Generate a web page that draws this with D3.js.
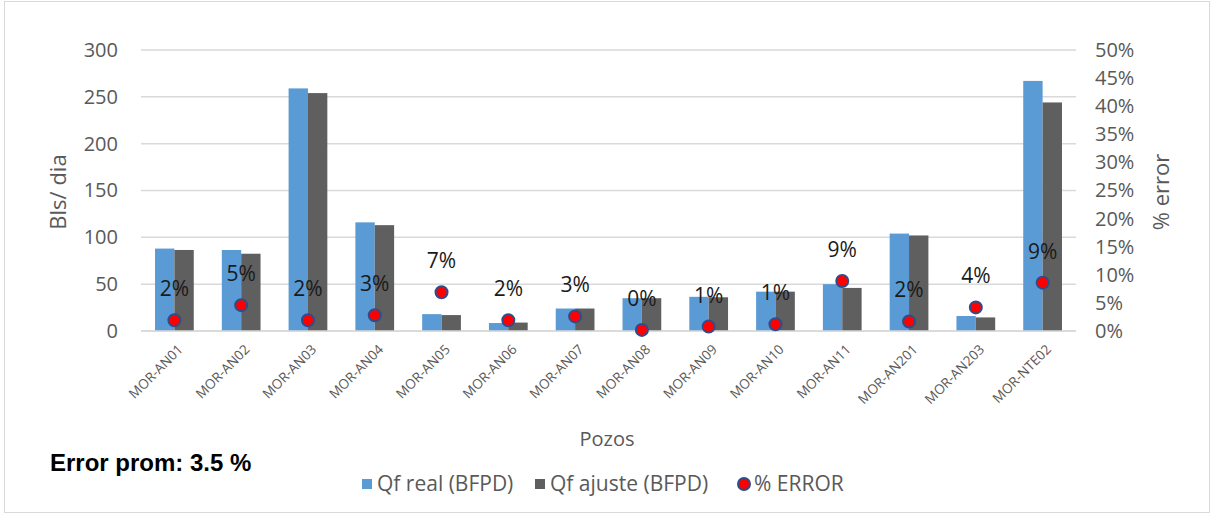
<!DOCTYPE html>
<html>
<head>
<meta charset="utf-8">
<script src="https://cdn.jsdelivr.net/npm/d3@7"></script>
<style>
  html, body { margin: 0; padding: 0; background: #fff; }
  svg { display: block; }
</style>
</head>
<body>
<svg id="chart" width="1218" height="519"></svg>
<script>
// Well names (x categories)
const pozos = ["MOR-AN01", "MOR-AN02", "MOR-AN03", "MOR-AN04", "MOR-AN05", "MOR-AN06", "MOR-AN07",
               "MOR-AN08", "MOR-AN09", "MOR-AN10", "MOR-AN11", "MOR-AN201", "MOR-AN203", "MOR-NTE02"];
// Measured fluid rate, barrels per day
const qfReal = [88, 86.5, 259, 116, 18, 8.5, 24, 35, 36.5, 42, 50, 104, 16, 267];
// Fitted fluid rate, barrels per day
const qfAjuste = [86.5, 82.5, 254, 113, 17, 9, 24, 35, 36, 42, 46, 102, 14.5, 244];
// Relative error (%)
const errorPct = [1.9, 4.6, 1.9, 2.8, 6.9, 1.9, 2.6, 0.2, 0.8, 1.2, 8.9, 1.7, 4.2, 8.6];
// Axis ticks
const leftTicks = [0, 50, 100, 150, 200, 250, 300];
const rightTicks = [0, 5, 10, 15, 20, 25, 30, 35, 40, 45, 50];
const seriesNames = ["Qf real (BFPD)", "Qf ajuste (BFPD)", "% ERROR"];

const colors = { real: "#5B9BD5", ajuste: "#5F5F5F", dot: "#FF0000", dotStroke: "#2F4C8C",
                 grid: "#D9D9D9", text: "#595959" };
const font = "'Open Sans', 'Noto Sans', sans-serif";

const svg = d3.select("#chart");
const plot = { left: 141, right: 1076, top: 50, bottom: 331 };

// Chart frame
svg.append("rect")
  .attr("x", 4.5).attr("y", 1.5).attr("width", 1205).attr("height", 511)
  .attr("fill", "#fff").attr("stroke", "#D9D9D9").attr("stroke-width", 1);

const x0 = d3.scaleBand().domain(pozos).range([plot.left, plot.right])
  .paddingInner(0.42).paddingOuter(0.21);
const x1 = d3.scaleBand().domain(["real", "ajuste"]).range([0, x0.bandwidth()]);
const yL = d3.scaleLinear().domain([0, 300]).range([plot.bottom, plot.top]);
const yR = d3.scaleLinear().domain([0, 50]).range([plot.bottom, plot.top]);

// Gridlines
svg.append("g").selectAll("line").data(leftTicks).join("line")
  .attr("x1", plot.left).attr("x2", plot.right)
  .attr("y1", d => yL(d)).attr("y2", d => yL(d))
  .attr("stroke", colors.grid).attr("stroke-width", 1.5);

// Left axis
const axL = svg.append("g").attr("transform", `translate(${plot.left},0)`)
  .call(d3.axisLeft(yL).tickValues(leftTicks).tickSize(0).tickPadding(23));
axL.select(".domain").remove();
axL.selectAll("text").attr("font-family", font).attr("font-size", 20).attr("fill", colors.text);

// Right axis
const axR = svg.append("g").attr("transform", `translate(${plot.right},0)`)
  .call(d3.axisRight(yR).tickValues(rightTicks).tickSize(0).tickPadding(19).tickFormat(d => d + "%"));
axR.select(".domain").remove();
axR.selectAll("text").attr("font-family", font).attr("font-size", 20).attr("fill", colors.text);

// Bars
const groups = svg.append("g").selectAll("g").data(pozos).join("g")
  .attr("transform", d => `translate(${x0(d)},0)`);
groups.append("rect")
  .attr("x", x1("real")).attr("width", x1.bandwidth())
  .attr("y", (d, i) => yL(qfReal[i])).attr("height", (d, i) => yL(0) - yL(qfReal[i]))
  .attr("fill", colors.real);
groups.append("rect")
  .attr("x", x1("ajuste")).attr("width", x1.bandwidth())
  .attr("y", (d, i) => yL(qfAjuste[i])).attr("height", (d, i) => yL(0) - yL(qfAjuste[i]))
  .attr("fill", colors.ajuste);

// Baseline
svg.append("line").attr("x1", plot.left).attr("x2", plot.right)
  .attr("y1", plot.bottom).attr("y2", plot.bottom)
  .attr("stroke", colors.grid).attr("stroke-width", 1.5);

// Error markers and their labels
const cx = d => x0(d) + x0.bandwidth() / 2;
svg.append("g").selectAll("circle").data(pozos).join("circle")
  .attr("cx", cx).attr("cy", (d, i) => yR(errorPct[i]))
  .attr("r", 6).attr("fill", colors.dot)
  .attr("stroke", colors.dotStroke).attr("stroke-width", 2);
svg.append("g").selectAll("text").data(pozos).join("text")
  .attr("x", cx).attr("y", (d, i) => yR(errorPct[i]) - 24)
  .attr("text-anchor", "middle")
  .attr("font-family", font).attr("font-size", 21).attr("fill", "#1a1a1a")
  .text((d, i) => Math.round(errorPct[i]) + "%");

// Category labels
svg.append("g").selectAll("text").data(pozos).join("text")
  .attr("transform", d => `translate(${cx(d) + 6},${plot.bottom + 16}) rotate(-45)`)
  .attr("text-anchor", "end").attr("dy", "0.35em")
  .attr("font-family", font).attr("font-size", 13.5).attr("fill", colors.text)
  .text(d => d);

// Axis titles
svg.append("text").attr("transform", "translate(66,192) rotate(-90)")
  .attr("text-anchor", "middle")
  .attr("font-family", font).attr("font-size", 22).attr("fill", colors.text)
  .text("Bls/ dia");
svg.append("text").attr("transform", "translate(1169,192) rotate(-90)")
  .attr("text-anchor", "middle")
  .attr("font-family", font).attr("font-size", 22).attr("fill", colors.text)
  .text("% error");
svg.append("text").attr("x", 607).attr("y", 446)
  .attr("text-anchor", "middle")
  .attr("font-family", font).attr("font-size", 20).attr("fill", colors.text)
  .text("Pozos");

// Average error note
svg.append("text").attr("x", 50).attr("y", 471)
  .attr("font-family", "'Liberation Sans', Arial, sans-serif")
  .attr("font-weight", "bold").attr("font-size", 24).attr("fill", "#000")
  .text("Error prom: 3.5 %");

// Legend
const legend = svg.append("g").attr("transform", "translate(362,484)");
const legendX = [0, 173, 377];
seriesNames.forEach((name, i) => {
  const g = legend.append("g").attr("transform", `translate(${legendX[i]},0)`);
  if (i < 2) {
    g.append("rect").attr("x", 0).attr("y", -5).attr("width", 10).attr("height", 10)
      .attr("fill", i === 0 ? colors.real : colors.ajuste);
  } else {
    g.append("circle").attr("cx", 5).attr("cy", 0).attr("r", 6)
      .attr("fill", colors.dot).attr("stroke", colors.dotStroke).attr("stroke-width", 2);
  }
  g.append("text").attr("x", 15).attr("y", 0).attr("dy", "0.35em")
    .attr("font-family", font).attr("font-size", 21).attr("fill", colors.text)
    .text(name);
});
</script>
</body>
</html>
